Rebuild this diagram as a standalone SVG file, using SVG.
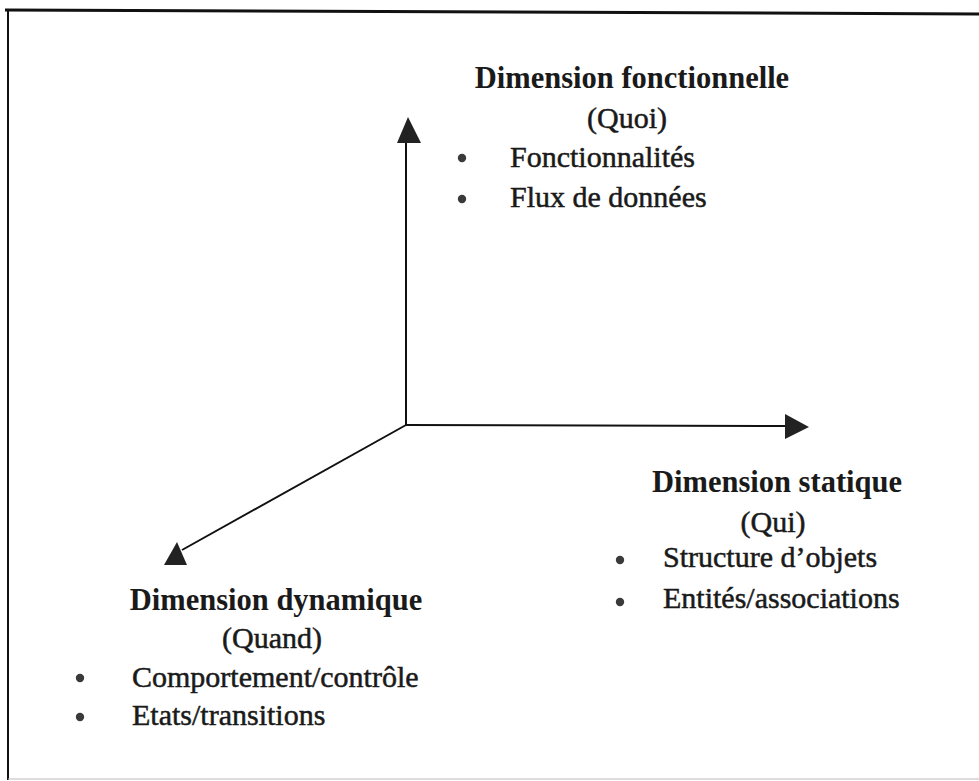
<svg xmlns="http://www.w3.org/2000/svg" width="979" height="781" viewBox="0 0 979 781">
  <style>
    .title { font-family: "Liberation Serif", "Times New Roman", serif; font-size: 30.5px; font-weight: bold; fill: #1a1a1a; text-anchor: middle; }
    .sub { font-family: "Liberation Serif", "Times New Roman", serif; font-size: 30px; fill: #1a1a1a; stroke: #1a1a1a; stroke-width: 0.5; text-anchor: middle; }
    .item { font-family: "Liberation Serif", "Times New Roman", serif; font-size: 30px; fill: #1a1a1a; stroke: #1a1a1a; stroke-width: 0.5; }
    .bullet { fill: #3a3a3a; }
    .axis { stroke: #111; stroke-width: 2; fill: none; }
    .head { fill: #222; }
  </style>

  <rect width="979" height="781" fill="#ffffff"/>

  <!-- frame -->
  <g id="frame">
    <line x1="5" y1="10" x2="979" y2="14" stroke="#111" stroke-width="3"/>
    <line x1="8" y1="10" x2="8" y2="780" stroke="#111" stroke-width="2"/>
    <line x1="8" y1="779" x2="979" y2="779" stroke="#bbb" stroke-width="1"/>
  </g>

  <!-- axes -->
  <g id="connectors">
    <line class="axis" x1="406" y1="425" x2="406" y2="140"/>
    <polygon class="head" points="408,117 397,143 421,143"/>
    <line class="axis" x1="406" y1="425" x2="787" y2="426"/>
    <polygon class="head" points="809,427 785,414 785,439"/>
    <line class="axis" x1="406" y1="425" x2="182" y2="550"/>
    <polygon class="head" points="177,542 164,565 187,565"/>
  </g>

  <!-- functional dimension -->
  <g id="fonctionnelle">
    <text class="title" x="632" y="88">Dimension fonctionnelle</text>
    <text class="sub" x="627" y="128">(Quoi)</text>
    <circle class="bullet" cx="462" cy="158" r="4.2"/>
    <text class="item" x="510" y="167">Fonctionnalités</text>
    <circle class="bullet" cx="462" cy="199" r="4.2"/>
    <text class="item" x="510" y="207">Flux de données</text>
  </g>

  <!-- static dimension -->
  <g id="statique">
    <text class="title" x="777" y="492">Dimension statique</text>
    <text class="sub" x="773" y="532">(Qui)</text>
    <circle class="bullet" cx="620" cy="560" r="4.2"/>
    <text class="item" x="663" y="567">Structure d’objets</text>
    <circle class="bullet" cx="620" cy="602" r="4.2"/>
    <text class="item" x="663" y="608">Entités/associations</text>
  </g>

  <!-- dynamic dimension -->
  <g id="dynamique">
    <text class="title" x="276" y="610">Dimension dynamique</text>
    <text class="sub" x="272" y="648">(Quand)</text>
    <circle class="bullet" cx="80" cy="678" r="4.2"/>
    <text class="item" x="132" y="687">Comportement/contrôle</text>
    <circle class="bullet" cx="80" cy="717" r="4.2"/>
    <text class="item" x="132" y="725">Etats/transitions</text>
  </g>
</svg>
